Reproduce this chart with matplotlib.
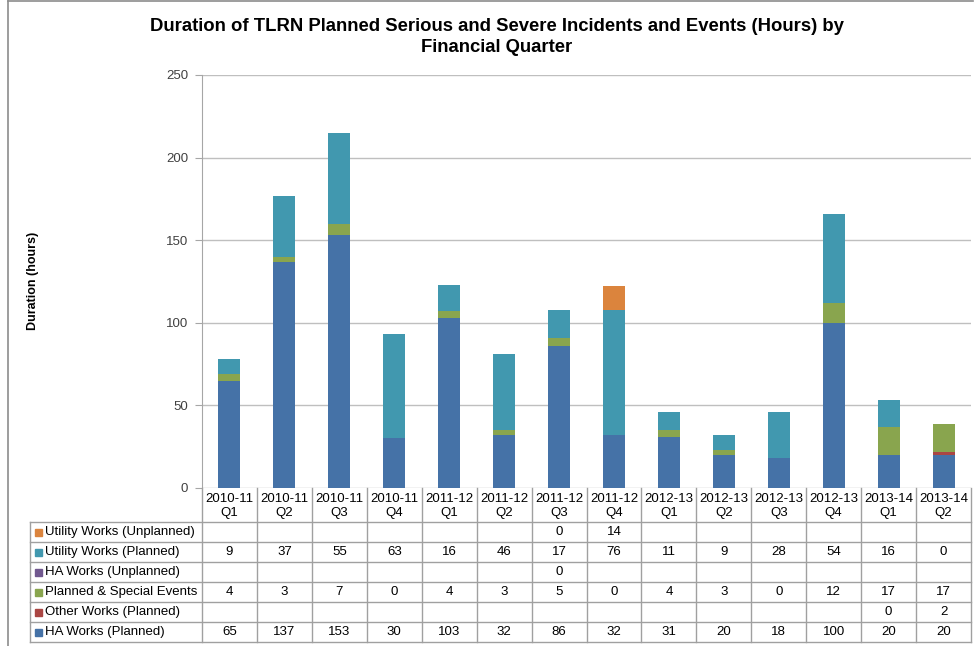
import matplotlib
matplotlib.use("Agg")
import matplotlib.pyplot as plt
import matplotlib.transforms as mtransforms
import numpy as np

plt.rcParams['font.family'] = ['Liberation Sans', 'DejaVu Sans']

quarters = ["2010-11\nQ1", "2010-11\nQ2", "2010-11\nQ3", "2010-11\nQ4",
            "2011-12\nQ1", "2011-12\nQ2", "2011-12\nQ3", "2011-12\nQ4",
            "2012-13\nQ1", "2012-13\nQ2", "2012-13\nQ3", "2012-13\nQ4",
            "2013-14\nQ1", "2013-14\nQ2"]

# None = blank cell in the table
ha_planned = [65, 137, 153, 30, 103, 32, 86, 32, 31, 20, 18, 100, 20, 20]
other_planned = [None] * 12 + [0, 2]
special_events = [4, 3, 7, 0, 4, 3, 5, 0, 4, 3, 0, 12, 17, 17]
ha_unplanned = [None] * 6 + [0] + [None] * 7
utility_planned = [9, 37, 55, 63, 16, 46, 17, 76, 11, 9, 28, 54, 16, 0]
utility_unplanned = [None] * 6 + [0, 14] + [None] * 6

# bottom-to-top stacking order
series = [
    ("HA Works (Planned)", ha_planned, "#4572A7"),
    ("Other Works (Planned)", other_planned, "#AA4643"),
    ("Planned & Special Events", special_events, "#89A54E"),
    ("HA Works (Unplanned)", ha_unplanned, "#71588F"),
    ("Utility Works (Planned)", utility_planned, "#4198AF"),
    ("Utility Works (Unplanned)", utility_unplanned, "#DB843D"),
]

W, H = 974, 646
fig = plt.figure(figsize=(W / 100, H / 100), dpi=100)

def fx(px):
    return px / W

def fy(py):
    return 1 - py / H

# outer chart border (only top and left visible in crop)
fig.add_artist(plt.Line2D([fx(8), fx(8)], [fy(1), fy(646)], color="#8c8c8c", lw=1.2))
fig.add_artist(plt.Line2D([fx(8), fx(973)], [fy(1), fy(1)], color="#8c8c8c", lw=1.2))

ax_left, ax_right, ax_top, ax_bot = 202, 971, 75, 488
ax = fig.add_axes([fx(ax_left), fy(ax_bot), fx(ax_right - ax_left), (ax_bot - ax_top) / H])

x = np.arange(len(quarters))
bottom = np.zeros(len(quarters))
for name, vals, col in series:
    v = np.array([0 if a is None else a for a in vals], dtype=float)
    ax.bar(x, v, width=0.4, bottom=bottom, color=col, edgecolor="none", zorder=3)
    bottom += v

ax.set_xlim(-0.5, len(quarters) - 0.5)
ax.set_ylim(0, 250)
ax.set_yticks(range(0, 251, 50))
ax.yaxis.grid(True, color="#bfbfbf", lw=1)
ax.set_axisbelow(True)
ax.set_xticks([])
for s in ["top", "right", "bottom"]:
    ax.spines[s].set_visible(False)
ax.spines["left"].set_color("#a6a6a6")
ax.tick_params(axis="y", length=5, color="#a6a6a6", labelsize=9.5, labelcolor="#404040", pad=5)

fig.text(fx(497), fy(37), "Duration of TLRN Planned Serious and Severe Incidents and Events (Hours) by\nFinancial Quarter",
         ha="center", va="center", fontsize=13.3, fontweight="bold", linespacing=1.25)
fig.text(fx(33), fy(281), "Duration (hours)", rotation=90, ha="center", va="center",
         fontsize=9, fontweight="bold")

# --- data table under the axis ---
tr = mtransforms.blended_transform_factory(ax.transData, fig.transFigure)
line_c = "#a0a0a0"
head_bot = 522
row_h = 20
n_rows = len(series)
table_bot = head_bot + n_rows * row_h

for i in range(len(quarters) + 1):
    fig.add_artist(plt.Line2D([i - 0.5, i - 0.5], [fy(ax_bot), fy(table_bot)], transform=tr,
                              color=line_c, lw=1))
fig.add_artist(plt.Line2D([fx(30), fx(30)], [fy(head_bot), fy(table_bot)], color=line_c, lw=1))
for r in range(n_rows + 1):
    yy = fy(head_bot + r * row_h)
    fig.add_artist(plt.Line2D([fx(30), fx(ax_right)], [yy, yy], color=line_c, lw=1))

for i, q in enumerate(quarters):
    fig.text(i, fy((ax_bot + head_bot) / 2 + 1), q, transform=tr, ha="center", va="center",
             fontsize=9.5, linespacing=1.2)

# table rows are listed top-to-bottom in reverse stacking order
for r, (name, vals, col) in enumerate(reversed(series)):
    yc = fy(head_bot + r * row_h + row_h / 2)
    fig.add_artist(plt.Rectangle((fx(35), yc - 3.5 / H), 7 / W, 7 / H, color=col))
    fig.text(fx(45), yc, name, ha="left", va="center", fontsize=9.5)
    for i, v in enumerate(vals):
        if v is not None:
            fig.text(i, yc, str(v), transform=tr, ha="center", va="center", fontsize=9.5)

fig.savefig("out.png", dpi=100)
